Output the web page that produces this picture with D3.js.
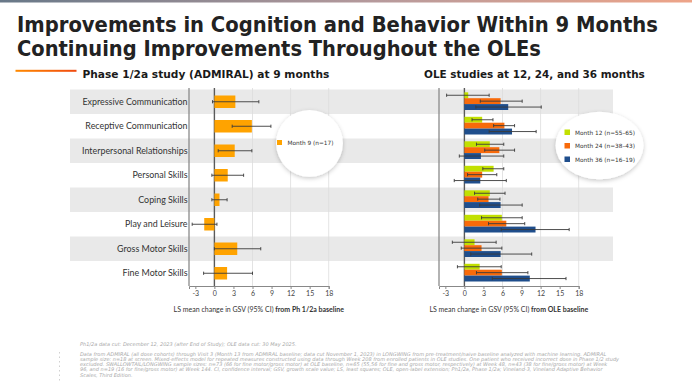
<!DOCTYPE html>
<html>
<head>
<meta charset="utf-8">
<script src="https://cdn.jsdelivr.net/npm/d3@7"></script>
<style>
    body { margin: 0; background: #fff; }
    svg { display: block; }
</style>
</head>
<body>
<div id="chart"></div>
<script>
// values (LS mean change in GSV, 95% CI)
const skills = ["Expressive Communication", "Receptive Communication", "Interpersonal Relationships",
    "Personal Skills", "Coping Skills", "Play and Leisure", "Gross Motor Skills", "Fine Motor Skills"];

const month9 = [3.3, 5.9, 3.2, 2.1, 0.8, -1.6, 3.6, 2.0];
const month9Low = [-0.3, 2.8, 0.6, -0.4, -0.4, -3.5, 0.0, -1.7];
const month9High = [7.0, 8.9, 5.9, 4.6, 2.0, 0.4, 7.3, 6.0];

const month12 = [0.6, 2.8, 4.0, 4.6, 4.0, 5.9, 1.6, 2.4];
const month12Low = [-2.8, 1.2, 1.9, 2.9, 1.6, 2.7, -1.9, -1.1];
const month12High = [3.9, 4.5, 6.2, 6.2, 6.4, 9.1, 5.0, 5.8];

const month24 = [5.7, 6.3, 5.5, 2.8, 3.8, 6.6, 2.7, 5.9];
const month24Low = [2.5, 4.6, 3.2, 0.5, 2.1, 3.8, -0.5, 1.9];
const month24High = [9.1, 7.9, 7.9, 5.1, 5.6, 9.5, 5.9, 10.0];

const month36 = [6.9, 7.5, 2.6, 2.5, 5.7, 11.2, 5.7, 10.3];
const month36Low = [1.8, 3.9, -0.8, -1.6, 2.4, 5.8, 1.0, 4.4];
const month36High = [12.1, 11.3, 6.2, 6.6, 9.1, 16.5, 10.6, 16.0];

const tickValues = [-3, 0, 3, 6, 9, 12, 15, 18];
const gridValues = [6, 12, 18];

const leftLegend = ["Month 9 (n=17)"];
const rightLegend = ["Month 12 (n=55\u201365)", "Month 24 (n=38\u201343)", "Month 36 (n=16\u201319)"];

const titleLines = ["Improvements in Cognition and Behavior Within 9 Months",
    "Continuing Improvements Throughout the OLEs"];

const footnotes = [
    "Ph1/2a data cut: December 12, 2023 (after End of Study); OLE data cut: 30 May 2025.",
    "Data from ADMIRAL (all dose cohorts) through Visit 3 (Month 13 from ADMIRAL baseline; data cut November 1, 2023) in LONGWING from pre-treatment/naive baseline analyzed with machine learning. ADMIRAL",
    "sample size: n=18 at screen. Mixed-effects model for repeated measures constructed using data through Week 208 from enrolled patients in OLE studies. One patient who received incorrect dose in Phase 1/2 study",
    "excluded. SWALLOWTAIL/LONGWING sample sizes: n=73 (66 for fine motor/gross motor) at OLE baseline, n=65 (55,56 for fine and gross motor, respectively) at Week 48, n=43 (38 for fine/gross motor) at Week",
    "96, and n=19 (16 for fine/gross motor) at Week 144. CI, confidence interval; GSV, growth scale value; LS, least squares; OLE, open-label extension; Ph1/2a, Phase 1/2a; Vineland-3, Vineland Adaptive Behavior",
    "Scales, Third Edition."
];

// colours
const col9 = "#FFA300";
const colSeries = ["#C2E000", "#F86A0A", "#1F4E8C"];
const labelFont = "Lato, 'Open Sans', sans-serif";
const headFont = "'DejaVu Sans', Verdana, sans-serif";

const width = 692, height = 385;
const svg = d3.select("#chart").append("svg")
    .attr("width", width).attr("height", height);

const defs = svg.append("defs");
const topGrad = defs.append("linearGradient").attr("id", "topGrad");
topGrad.append("stop").attr("offset", "0%").attr("stop-color", "#687888");
topGrad.append("stop").attr("offset", "55%").attr("stop-color", "#b79a9c");
topGrad.append("stop").attr("offset", "100%").attr("stop-color", "#eea488");
const lineGrad = defs.append("linearGradient").attr("id", "lineGrad");
lineGrad.append("stop").attr("offset", "0%").attr("stop-color", "#ff8a00");
lineGrad.append("stop").attr("offset", "100%").attr("stop-color", "#f04a10");
const shadow = defs.append("filter").attr("id", "shadow")
    .attr("x", "-30%").attr("y", "-30%").attr("width", "160%").attr("height", "160%");
shadow.append("feDropShadow").attr("dx", 0).attr("dy", 1.5)
    .attr("stdDeviation", 2.2).attr("flood-color", "#000").attr("flood-opacity", 0.22);

// squeeze a text horizontally to a given width (the original font is narrower)
function fitWidth(sel, x, y, target) {
    sel.each(function () {
        const w = this.getComputedTextLength();
        d3.select(this).attr("transform",
            "translate(" + x + "," + y + ") scale(" + (target / w) + ",1)");
    });
}

// header
svg.append("rect").attr("x", 0).attr("y", 0).attr("width", width).attr("height", 2.5)
    .attr("fill", "url(#topGrad)");

const titleWidths = [641, 524];
svg.selectAll("text.title")
    .data(titleLines).enter()
    .append("text").attr("class", "title")
    .style("font-family", headFont)
    .style("font-weight", "bold")
    .style("font-size", "22px")
    .style("fill", "#222")
    .text(d => d)
    .each(function (d, i) { fitWidth(d3.select(this), 17, 32 + i * 23.5, titleWidths[i]); });

svg.append("rect").attr("x", 15.5).attr("y", 69.8).attr("width", 61).attr("height", 2)
    .attr("fill", "url(#lineGrad)");

const subtitles = [
    { text: "Phase 1/2a study (ADMIRAL) at 9 months", x: 82.5, len: 247 },
    { text: "OLE studies at 12, 24, and 36 months", x: 424, len: 221 }
];
svg.selectAll("text.subtitle")
    .data(subtitles).enter()
    .append("text").attr("class", "subtitle")
    .style("font-family", headFont)
    .style("font-weight", "bold")
    .style("font-size", "10.5px")
    .style("fill", "#1a1a1a")
    .text(d => d.text)
    .each(function (d) { fitWidth(d3.select(this), d.x, 78.3, d.len); });

// shared row scale
const plotTop = 89.5, plotBottom = 285.5;
const y = d3.scaleBand().domain(skills).range([plotTop, plotBottom]);

// alternating bands across both panels
svg.append("g").selectAll("rect")
    .data(skills.filter((d, i) => i % 2 == 0)).enter()
    .append("rect")
    .attr("x", 70).attr("width", 613 - 70)
    .attr("y", d => y(d)).attr("height", y.bandwidth())
    .attr("fill", "#e9e9e9");

const xLeft = d3.scaleLinear().domain([-4, 18]).range([189, 328.7]);
const xRight = d3.scaleLinear().domain([-4, 18]).range([439, 578.7]);

function drawFrame(x, titleBold) {
    const g = svg.append("g");
    g.selectAll("line.grid")
        .data(gridValues).enter()
        .append("line").attr("class", "grid")
        .attr("x1", d => x(d)).attr("x2", d => x(d))
        .attr("y1", plotTop - 1.5).attr("y2", plotBottom + 0.5)
        .attr("stroke", "#dcdcdc").attr("stroke-width", 0.8);

    const axis = g.append("g")
        .attr("transform", "translate(0," + (plotBottom + 0.5) + ")")
        .call(d3.axisBottom(x).tickValues(tickValues).tickSize(3).tickPadding(2.5)
            .tickFormat(d => d < 0 ? "-" + Math.abs(d) : d));
    axis.select(".domain").attr("stroke", "#888").attr("stroke-width", 1);
    axis.selectAll(".tick line").attr("stroke", "#888");
    axis.selectAll(".tick text")
        .style("font-family", labelFont).style("font-size", "7px").style("fill", "#444");

    // left axis and zero line
    g.append("line")
        .attr("x1", x.range()[0]).attr("x2", x.range()[0])
        .attr("y1", plotTop - 1.5).attr("y2", plotBottom + 0.5)
        .attr("stroke", "#8a8a8a").attr("stroke-width", 1.3);
    g.append("line")
        .attr("x1", x(0)).attr("x2", x(0))
        .attr("y1", plotTop - 1.5).attr("y2", plotBottom + 0.5)
        .attr("stroke", "#5a5a5a").attr("stroke-width", 1.4);

    const t = g.append("text")
        .attr("x", (x.range()[0] + x.range()[1]) / 2).attr("y", 311.5)
        .attr("text-anchor", "middle")
        .style("font-family", labelFont).style("font-size", "7px").style("fill", "#333");
    t.append("tspan").text("LS mean change in GSV (95% CI) ");
    t.append("tspan").style("font-weight", "bold").text(titleBold);
    return g;
}

function drawBars(g, x, values, low, high, colour, barH, offset) {
    const data = skills.map((s, i) => ({ skill: s, v: values[i], lo: low[i], hi: high[i] }));
    const cy = d => y(d.skill) + y.bandwidth() / 2 + offset;
    g.append("g").selectAll("rect")
        .data(data).enter()
        .append("rect")
        .attr("x", d => x(Math.min(0, d.v)))
        .attr("width", d => Math.abs(x(d.v) - x(0)))
        .attr("y", d => cy(d) - barH / 2)
        .attr("height", barH)
        .attr("fill", colour);
    const eb = g.append("g").attr("stroke", "#3a3a3a").attr("stroke-width", 0.9);
    eb.selectAll("line.ci")
        .data(data).enter()
        .append("line").attr("class", "ci")
        .attr("x1", d => x(d.lo)).attr("x2", d => x(d.hi))
        .attr("y1", cy).attr("y2", cy);
    eb.selectAll("line.lo")
        .data(data).enter()
        .append("line").attr("class", "lo")
        .attr("x1", d => x(d.lo)).attr("x2", d => x(d.lo))
        .attr("y1", d => cy(d) - 1.6).attr("y2", d => cy(d) + 1.6);
    eb.selectAll("line.hi")
        .data(data).enter()
        .append("line").attr("class", "hi")
        .attr("x1", d => x(d.hi)).attr("x2", d => x(d.hi))
        .attr("y1", d => cy(d) - 1.6).attr("y2", d => cy(d) + 1.6);
}

// left panel
const gLeft = drawFrame(xLeft, "from Ph 1/2a baseline");
svg.append("g").selectAll("text")
    .data(skills).enter()
    .append("text")
    .attr("x", 187.5)
    .attr("y", d => y(d) + y.bandwidth() / 2 + 3)
    .attr("text-anchor", "end")
    .style("font-family", labelFont).style("font-size", "8.9px").style("fill", "#333")
    .text(d => d);
drawBars(gLeft, xLeft, month9, month9Low, month9High, col9, 12.5, 0);

// right panel
const gRight = drawFrame(xRight, "from OLE baseline");
const rightSeries = [
    [month12, month12Low, month12High],
    [month24, month24Low, month24High],
    [month36, month36Low, month36High]
];
rightSeries.forEach((s, i) => {
    drawBars(gRight, xRight, s[0], s[1], s[2], colSeries[i], 5.9, (i - 1) * 5.9 - 0.6);
});

// legends
svg.append("circle").attr("cx", 309.5).attr("cy", 143.3).attr("r", 33.4)
    .attr("fill", "#fff").attr("filter", "url(#shadow)");
const lgL = svg.append("g");
lgL.selectAll("rect")
    .data(leftLegend).enter()
    .append("rect")
    .attr("x", 277).attr("y", 140).attr("width", 5).attr("height", 5)
    .attr("fill", col9);
lgL.selectAll("text")
    .data(leftLegend).enter()
    .append("text")
    .attr("x", 287.5).attr("y", 145)
    .style("font-family", headFont)
    .style("font-size", "5.8px").style("fill", "#333")
    .text(d => d);

svg.append("ellipse").attr("cx", 599.5).attr("cy", 145.5).attr("rx", 44).attr("ry", 33.8)
    .attr("fill", "#fff").attr("filter", "url(#shadow)");
const lgR = svg.append("g");
lgR.selectAll("rect")
    .data(rightLegend).enter()
    .append("rect")
    .attr("x", 564.5).attr("y", (d, i) => 129.5 + i * 13.5)
    .attr("width", 5.5).attr("height", 5.5)
    .attr("fill", (d, i) => colSeries[i]);
lgR.selectAll("text")
    .data(rightLegend).enter()
    .append("text")
    .attr("x", 575).attr("y", (d, i) => 134.6 + i * 13.5)
    .style("font-family", headFont)
    .style("font-size", "5.8px").style("fill", "#333")
    .text(d => d);

// footnotes
svg.append("g").selectAll("text")
    .data(footnotes).enter()
    .append("text")
    .attr("x", 80)
    .attr("y", (d, i) => i == 0 ? 345.5 : 350.5 + i * 5.2)
    .style("font-family", headFont)
    .style("font-style", "italic")
    .style("font-size", "5px").style("fill", "#a8a8a8")
    .text(d => d);

svg.append("line")
    .attr("x1", 59.5).attr("x2", 59.5).attr("y1", 352).attr("y2", 383)
    .attr("stroke", "#bbb").attr("stroke-width", 0.7).attr("stroke-dasharray", "1.5,3");
</script>
</body>
</html>
